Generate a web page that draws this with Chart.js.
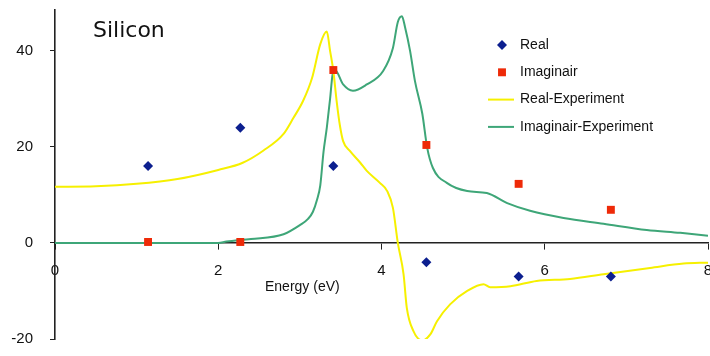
<!DOCTYPE html>
<html>
<head>
<meta charset="utf-8">
<script src="https://cdn.jsdelivr.net/npm/chart.js@4.4.1/dist/chart.umd.min.js"></script>
<style>
  html, body { margin: 0; padding: 0; background: #fff; }
</style>
</head>
<body>
<canvas id="chart" width="710" height="356"></canvas>
<script>
const chartTitle = 'Silicon';
const xTitle = 'Energy (eV)';
const seriesNames = ['Real', 'Imaginair', 'Real-Experiment', 'Imaginair-Experiment'];

// calculated points
const calcX = [1.14, 2.27, 3.41, 4.55, 5.68, 6.81];
const realY = [16, 24, 16, -4, -7, -7];
const imagY = [0.2, 0.2, 36, 20.4, 12.3, 6.9];

// experiment curves
const realExpX = [0, 0.5, 1.0, 1.5, 2.0, 2.3, 2.55, 2.8, 2.92, 3.04, 3.15, 3.25, 3.33, 3.37, 3.41, 3.45,
  3.49, 3.53, 3.61, 3.74, 3.82, 3.98, 4.07, 4.14, 4.2, 4.27, 4.31, 4.39, 4.5, 4.6, 4.68, 4.84,
  5.05, 5.25, 5.33, 5.58, 5.9, 6.31, 6.72, 7.29, 7.7, 8.0];
const realExpY = [11.7, 11.8, 12.3, 13.3, 15.2, 16.7, 19.2, 22.7, 26, 29.6, 34.4, 41.4, 44, 40, 35.8, 29.6,
  24.5, 21.2, 19.2, 16.7, 15, 12.5, 10.8, 7.3, 0, -6.5, -13.5, -18.3, -20.3, -19, -16.3, -12.8,
  -10, -8.6, -9.2, -9, -7.9, -7.5, -6.5, -5.2, -4.3, -4.1];

const imagExpX = [0, 1.0, 2.0, 2.1, 2.4, 2.8, 3.0, 3.1, 3.16, 3.21, 3.25, 3.29, 3.33, 3.37, 3.40, 3.43,
  3.53, 3.65, 3.82, 4.02, 4.14, 4.2, 4.25, 4.29, 4.35, 4.41, 4.5, 4.56, 4.63, 4.8,
  5.05, 5.29, 5.54, 5.82, 6.23, 6.72, 7.25, 7.66, 8.0];
const imagExpY = [0, 0, 0, 0.3, 0.8, 1.8, 3.7, 5, 6.5, 9, 12, 19, 24, 30, 35, 36,
  33, 31.7, 33, 35.8, 40.6, 46, 47.2, 44.8, 40, 33.7, 26.9, 19.8, 15.6, 12.5,
  10.8, 10.4, 8.3, 6.7, 5.2, 4, 2.7, 2.1, 1.5];

const xTicks = [0, 2, 4, 6, 8];
const yTicks = [-20, 0, 20, 40];

function toPoints(xs, ys) {
  return xs.map((x, i) => ({ x: x, y: ys[i] }));
}

// scales should not push the plot area around
function noPadding(scale) {
  scale.paddingTop = 0;
  scale.paddingBottom = 0;
  scale.paddingLeft = 0;
  scale.paddingRight = 0;
}

const textPlugin = {
  id: 'texts',
  afterDraw(chart) {
    const ctx = chart.ctx;
    const xs = chart.scales.x, ys = chart.scales.y;
    ctx.save();
    ctx.fillStyle = '#111';
    ctx.font = '22px "DejaVu Sans"';
    ctx.textAlign = 'left';
    ctx.textBaseline = 'alphabetic';
    ctx.fillText(chartTitle, 93, 37);

    ctx.font = '14px "Liberation Sans"';
    ctx.textAlign = 'center';
    ctx.textBaseline = 'middle';
    ctx.fillText(xTitle, xs.getPixelForValue(3.03), ys.getPixelForValue(0) + 44);

    // legend
    ctx.textAlign = 'left';
    ctx.font = '14px "Liberation Sans"';
    chart.data.datasets.forEach((ds, i) => {
      const y = 45 + i * 27.3;
      if (ds.showLine) {
        ctx.strokeStyle = ds.borderColor;
        ctx.lineWidth = 2;
        ctx.beginPath();
        ctx.moveTo(488, y);
        ctx.lineTo(514, y);
        ctx.stroke();
      } else {
        ctx.fillStyle = ds.backgroundColor;
        ctx.strokeStyle = ds.borderColor;
        Chart.helpers.drawPoint(ctx, {
          pointStyle: ds.pointStyle, radius: ds.pointRadius, rotation: 0, borderWidth: 0
        }, 502, y);
      }
      ctx.fillStyle = '#111';
      ctx.fillText(ds.label, 520, y);
    });
    ctx.restore();
  }
};

new Chart(document.getElementById('chart'), {
  type: 'scatter',
  data: {
    datasets: [
      {
        label: seriesNames[0],
        data: toPoints(calcX, realY),
        pointStyle: 'rectRot',
        pointRadius: 5,
        backgroundColor: '#0c1f8f',
        borderColor: '#0c1f8f',
        borderWidth: 0
      },
      {
        label: seriesNames[1],
        data: toPoints(calcX, imagY),
        pointStyle: 'rect',
        pointRadius: 5.6,
        backgroundColor: '#ee2a08',
        borderColor: '#ee2a08',
        borderWidth: 0
      },
      {
        label: seriesNames[2],
        data: toPoints(realExpX, realExpY),
        showLine: true,
        pointRadius: 0,
        borderColor: '#f6f000',
        backgroundColor: '#f6f000',
        borderWidth: 2,
        cubicInterpolationMode: 'monotone'
      },
      {
        label: seriesNames[3],
        data: toPoints(imagExpX, imagExpY),
        showLine: true,
        pointRadius: 0,
        borderColor: '#3ea678',
        backgroundColor: '#3ea678',
        borderWidth: 2,
        cubicInterpolationMode: 'monotone'
      }
    ]
  },
  options: {
    responsive: false,
    animation: false,
    layout: { autoPadding: false, padding: { top: 10, right: 2, bottom: 17, left: 0 } },
    plugins: {
      legend: { display: false },
      tooltip: { enabled: false }
    },
    scales: {
      x: {
        type: 'linear',
        position: { y: 0 },
        min: 0,
        max: 8,
        afterBuildTicks: (scale) => { scale.ticks = xTicks.map(v => ({ value: v })); },
        afterFit: noPadding,
        grid: { drawOnChartArea: false, drawTicks: true, tickLength: 6, color: '#222' },
        border: { display: true, color: '#222', width: 1.6 },
        ticks: { color: '#111', padding: 13, font: { family: 'Liberation Sans', size: 15 } }
      },
      y: {
        type: 'linear',
        position: 'left',
        min: -20,
        max: 48.5,
        afterBuildTicks: (scale) => { scale.ticks = yTicks.map(v => ({ value: v })); },
        afterFit: (scale) => { scale.width = 55; noPadding(scale); },
        grid: { drawOnChartArea: false, drawTicks: true, tickLength: 5, color: '#222' },
        border: { display: true, color: '#222', width: 1.6 },
        ticks: { color: '#111', padding: 17, font: { family: 'Liberation Sans', size: 15 } }
      }
    }
  },
  plugins: [textPlugin]
});
</script>
</body>
</html>
